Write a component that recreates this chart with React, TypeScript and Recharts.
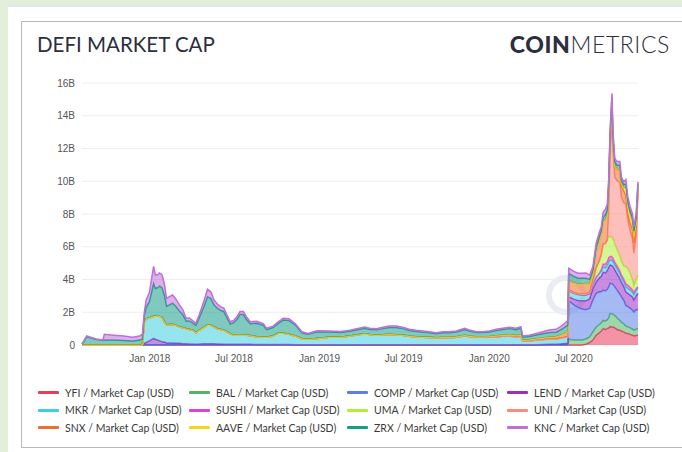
import React from 'react';
import { AreaChart, Area, XAxis, YAxis, CartesianGrid } from 'recharts';

// Observation dates (category axis of the stack)
const dates = [
  // 2017
  '2017-08-08', '2017-08-18', '2017-09-07', '2017-09-22', '2017-09-25', '2017-10-16', '2017-11-06', '2017-11-25', '2017-12-10', '2017-12-16', '2017-12-20', '2017-12-24', '2017-12-31',
  // 2018
  '2018-01-09', '2018-01-13', '2018-01-18', '2018-01-22', '2018-01-27', '2018-02-01', '2018-02-06', '2018-02-12', '2018-02-19', '2018-02-26',
  '2018-03-06', '2018-03-13', '2018-03-20', '2018-03-27', '2018-04-03', '2018-04-10', '2018-04-17', '2018-04-28', '2018-05-05', '2018-05-12',
  '2018-05-19', '2018-05-26', '2018-06-02', '2018-06-09', '2018-06-16', '2018-06-23', '2018-06-30', '2018-07-07', '2018-07-14', '2018-07-21',
  '2018-07-28', '2018-08-05', '2018-08-19', '2018-09-02', '2018-09-09', '2018-09-23', '2018-10-04', '2018-10-15', '2018-10-27', '2018-11-10',
  '2018-11-24', '2018-12-07', '2018-12-27',
  // 2019 early
  '2019-01-21', '2019-02-15', '2019-03-07', '2019-04-08', '2019-04-19',
  // 2019 May-Dec
  '2019-05-03', '2019-05-17', '2019-05-31', '2019-06-15', '2019-06-29', '2019-07-13', '2019-07-28', '2019-08-11', '2019-08-25', '2019-09-09',
  '2019-09-23', '2019-10-07', '2019-10-22', '2019-11-09', '2019-11-19', '2019-12-04', '2019-12-18',
  // 2020 H1
  '2020-01-01', '2020-01-16', '2020-01-30', '2020-02-13', '2020-02-28', '2020-03-09', '2020-03-13', '2020-03-27', '2020-04-11', '2020-04-25',
  '2020-05-09', '2020-05-24', '2020-06-07', '2020-06-18',
  // 2020 H2
  '2020-06-20', '2020-07-01', '2020-07-10', '2020-07-18', '2020-07-27', '2020-08-04', '2020-08-11', '2020-08-18', '2020-08-25', '2020-08-29',
  '2020-09-02', '2020-09-07', '2020-09-11', '2020-09-14', '2020-09-17', '2020-09-21', '2020-09-23', '2020-09-27', '2020-10-02', '2020-10-08',
  '2020-10-11', '2020-10-16', '2020-10-21', '2020-10-25', '2020-10-30', '2020-11-04', '2020-11-07', '2020-11-12', '2020-11-16',
];

// Market caps in billions USD. Each series is aligned to the END of `dates`
// (a shorter series starts later; earlier dates have no value).

// from 2020-06-20
const YFI = [0, 0, 0, 0, 0.05, 0.15, 0.3, 0.6, 0.75, 0.85, 1.0, 0.95, 1.0, 1.05, 1.12, 1.1, 1.1, 1.05, 0.95, 0.9, 0.85, 0.8, 0.72, 0.7, 0.65, 0.6, 0.55, 0.58, 0.6];
// from 2020-06-20
const BAL = [0.35, 0.3, 0.3, 0.3, 0.32, 0.35, 0.5, 0.5, 0.5, 0.5, 0.5, 0.5, 0.55, 0.6, 0.81, 0.8, 0.8, 0.75, 0.7, 0.6, 0.55, 0.5, 0.43, 0.42, 0.4, 0.38, 0.36, 0.38, 0.4];
// from 2020-06-20
const COMP = [2.35, 2.15, 2.0, 1.9, 1.78, 1.73, 1.95, 2.05, 2.0, 1.9, 1.85, 1.85, 1.85, 1.9, 1.84, 1.85, 1.8, 1.75, 1.7, 1.6, 1.55, 1.45, 1.25, 1.22, 1.2, 1.15, 1.1, 1.2, 1.14];
// from 2017-12-16
const LEND = [
  0.02, 0.1, 0.15, 0.25,
  0.4, 0.35, 0.3, 0.25, 0.2, 0.18, 0.12, 0.12, 0.12, 0.1,
  0.1, 0.08, 0.07, 0.06, 0.06, 0.05, 0.06, 0.08, 0.08, 0.08,
  0.07, 0.06, 0.06, 0.05, 0.05, 0.04, 0.04, 0.04, 0.04, 0.04,
  0.04, 0.04, 0.03, 0.03, 0.03, 0.03, 0.03, 0.03, 0.03, 0.02,
  0.02, 0.02, 0.02,
  0.02, 0.02, 0.02, 0.02, 0.02,
  0.02, 0.02, 0.02, 0.02, 0.02, 0.02, 0.02, 0.02, 0.02, 0.02, 0.02, 0.02, 0.02, 0.02, 0.02, 0.02, 0.02,
  0.02, 0.02, 0.02, 0.02, 0.02, 0.02, 0.01, 0.01, 0.02, 0.03, 0.04, 0.05, 0.08, 0.1,
  0.25, 0.35, 0.42, 0.5, 0.55, 0.6, 0.7, 0.7, 0.85, 0.95, 1.1, 1.1, 1.15, 1.2, 1.12, 1.1, 1.1, 1.05, 1.0, 0.95, 0.9, 0.85, 0.83, 0.82, 0.8, 0.8, 0.75, 0.85, 1.02,
];
// from 2017-12-20
const MKR = [
  1.3, 1.45, 1.4,
  1.35, 1.4, 1.5, 1.5, 1.5, 1.24, 1.1, 1.13, 1.13, 1.1,
  1.0, 0.97, 0.93, 0.89, 0.84, 0.7, 0.84, 1.02, 1.14, 1.12,
  1.03, 0.94, 0.89, 0.85, 0.75, 0.64, 0.57, 0.57, 0.58, 0.56,
  0.56, 0.54, 0.47, 0.45, 0.45, 0.52, 0.69, 0.69, 0.62, 0.53,
  0.36, 0.33, 0.38,
  0.45, 0.45, 0.53, 0.66, 0.62,
  0.58, 0.6, 0.62, 0.59, 0.57, 0.52, 0.47, 0.45, 0.44, 0.42, 0.43, 0.43, 0.46, 0.55, 0.5, 0.45, 0.45,
  0.46, 0.49, 0.52, 0.53, 0.49, 0.52, 0.24, 0.25, 0.28, 0.3, 0.32, 0.32, 0.37, 0.4,
  0.38, 0.36, 0.36, 0.36, 0.35, 0.31, 0.3, 0.3, 0.3, 0.3, 0.3, 0.3, 0.3, 0.3, 0.3, 0.3, 0.3, 0.28, 0.28, 0.28, 0.27, 0.27, 0.3, 0.3, 0.3, 0.3, 0.3, 0.32, 0.3,
];
// from 2020-08-29
const SUSHI = [0.1, 0.2, 0.25, 0.25, 0.3, 0.21, 0.25, 0.2, 0.2, 0.2, 0.2, 0.18, 0.18, 0.2, 0.2, 0.18, 0.15, 0.14, 0.12, 0.1];
// from 2020-06-20
const UMA = [0.05, 0.05, 0.06, 0.07, 0.1, 0.1, 0.15, 0.55, 0.75, 0.9, 1.2, 1.25, 1.3, 1.3, 1.2, 1.2, 1.2, 1.1, 1.0, 0.9, 0.85, 0.8, 1.05, 1.02, 0.85, 0.6, 0.4, 0.55, 0.71];
// from 2020-09-14
const UNI = [1.5, 5.0, 7.5, 5.4, 4.05, 4.2, 4.5, 3.9, 3.85, 3.8, 2.95, 2.6, 2.5, 2.0, 2.6, 4.99];
// from 2019-05-31
const SNX = [
  0.01, 0.01, 0.01, 0.01, 0.01, 0.01, 0.01, 0.01, 0.02, 0.02, 0.02, 0.03, 0.03, 0.03, 0.03,
  0.04, 0.05, 0.06, 0.07, 0.07, 0.08, 0.05, 0.06, 0.08, 0.09, 0.11, 0.13, 0.2, 0.3,
  0.55, 0.58, 0.58, 0.6, 0.6, 0.5, 0.45, 1.0, 1.25, 1.25, 1.4, 1.45, 1.5, 1.4, 0.9, 0.7, 0.7, 0.7, 0.7, 0.75, 0.75, 0.75, 0.55, 0.41, 0.5, 0.6, 0.65, 0.6, 0.25,
];
// from 2020-10-02
const AAVE = [0.03, 0.1, 0.1, 0.15, 0.45, 0.5, 0.45, 0.45, 0.45, 0.3, 0.2];
// full range
const ZRX = [
  0.05, 0.5, 0.35, 0.28, 0.3, 0.3, 0.28, 0.25, 0.3, 0.35, 0.4, 0.7, 1.0,
  2.0, 1.7, 1.7, 1.85, 1.8, 1.65, 1.15, 1.2, 1.3, 1.15,
  0.96, 0.8, 0.47, 0.52, 0.45, 0.45, 0.75, 1.3, 1.73, 1.65,
  1.35, 1.25, 1.17, 1.15, 0.85, 0.6, 0.75, 0.95, 1.25, 1.27,
  0.96, 0.72, 0.83, 0.72, 0.46, 0.52, 0.6, 0.8, 0.85, 0.67,
  0.37, 0.31, 0.41,
  0.32, 0.3, 0.29, 0.34, 0.31,
  0.33, 0.38, 0.42, 0.45, 0.4, 0.34, 0.33, 0.31, 0.28, 0.24, 0.28, 0.28, 0.3, 0.35, 0.31, 0.26, 0.26,
  0.28, 0.33, 0.35, 0.38, 0.36, 0.42, 0.19, 0.2, 0.23, 0.27, 0.3, 0.28, 0.35, 0.42,
  0.45, 0.4, 0.36, 0.35, 0.33, 0.28, 0.22, 0.3, 0.28, 0.25, 0.25, 0.3, 0.35, 0.3, 0.33, 0.3, 0.25, 0.25, 0.22, 0.2, 0.2, 0.2, 0.25, 0.25, 0.25, 0.25, 0.27, 0.25, 0.13,
];
// full range
const KNC = [
  0, 0.05, 0.02, 0.02, 0.35, 0.3, 0.27, 0.22, 0.25, 0.3, 0.2, 0.45, 0.55,
  1.05, 0.82, 0.8, 0.8, 0.8, 0.7, 0.48, 0.5, 0.5, 0.45,
  0.38, 0.29, 0.16, 0.18, 0.14, 0.12, 0.18, 0.35, 0.45, 0.4,
  0.3, 0.25, 0.22, 0.2, 0.18, 0.14, 0.14, 0.15, 0.17, 0.17,
  0.15, 0.12, 0.12, 0.1, 0.08, 0.08, 0.1, 0.11, 0.1, 0.08,
  0.06, 0.05, 0.06,
  0.06, 0.05, 0.06, 0.08, 0.07,
  0.07, 0.08, 0.09, 0.09, 0.08, 0.07, 0.07, 0.07, 0.06, 0.06, 0.06, 0.06, 0.06, 0.07, 0.06, 0.05, 0.05,
  0.06, 0.07, 0.07, 0.08, 0.08, 0.08, 0.06, 0.08, 0.1, 0.12, 0.15, 0.18, 0.22, 0.28,
  0.3, 0.31, 0.3, 0.3, 0.32, 0.25, 0.23, 0.2, 0.22, 0.2, 0.3, 0.35, 0.35, 0.3, 0.3, 0.27, 0.25, 0.22, 0.22, 0.22, 0.18, 0.17, 0.27, 0.27, 0.27, 0.26, 0.26, 0.25, 0.13,
];

const yTicks = [0, 2, 4, 6, 8, 10, 12, 14, 16];
const xTickDates = ['2018-01-01', '2018-07-01', '2019-01-01', '2019-07-01', '2020-01-01', '2020-07-01'];
const monthNames = ['Jan', 'Feb', 'Mar', 'Apr', 'May', 'Jun', 'Jul', 'Aug', 'Sep', 'Oct', 'Nov', 'Dec'];

const series = [
  { key: 'YFI', color: '#ec3a5c', values: YFI },
  { key: 'BAL', color: '#52b46a', values: BAL },
  { key: 'COMP', color: '#5b7fe8', values: COMP },
  { key: 'LEND', color: '#9a2fc6', values: LEND },
  { key: 'MKR', color: '#3ccfe0', values: MKR },
  { key: 'SUSHI', color: '#e63ee0', values: SUSHI },
  { key: 'UMA', color: '#b5ec3a', values: UMA },
  { key: 'UNI', color: '#fb8a80', values: UNI },
  { key: 'SNX', color: '#f26b2f', values: SNX },
  { key: 'AAVE', color: '#f8d41c', values: AAVE },
  { key: 'ZRX', color: '#179c8a', values: ZRX },
  { key: 'KNC', color: '#c06fd8', values: KNC },
];

const toTs = (d: string) => Date.parse(d + 'T00:00:00Z');
const n = dates.length;
const data = dates.map((d, i) => {
  const row: Record<string, number> = { t: toTs(d) };
  for (const s of series) {
    const off = n - s.values.length;
    row[s.key] = i >= off ? s.values[i - off] : 0;
  }
  return row;
});
const xTicks = xTickDates.map(toTs);
const fmtX = (v: number) => {
  const d = new Date(v);
  return monthNames[d.getUTCMonth()] + ' ' + d.getUTCFullYear();
};
const fmtY = (v: number) => (v === 0 ? '0' : v + 'B');

const legendCols = [38, 189, 347, 507];
const legendRows = [392.5, 410, 427.5];

const axisFont = { fontSize: 10, fill: '#555', fontFamily: '"Liberation Sans", Arial, sans-serif' };

export default function App() {
  return (
    <div style={{ position: 'absolute', left: 0, top: 0, width: 682, height: 452, background: '#e3efda', overflow: 'hidden' }}>
      <div style={{ position: 'absolute', left: 8, top: 5, width: 680, height: 452, background: '#fff', borderTop: '2px solid #e2e5f0' }} />
      <div style={{ position: 'absolute', left: 21, top: 21, width: 700, height: 425, border: '1.5px solid #b9b9b9', background: '#fff' }} />
      <div style={{ position: 'absolute', left: 37, top: 34, fontFamily: 'Lato, "Open Sans", sans-serif', fontSize: 20.5, lineHeight: 1, color: '#2c2f3d', whiteSpace: 'nowrap' }}>
        DEFI MARKET CAP
      </div>
      <div style={{ position: 'absolute', right: 12, top: 33, fontFamily: 'Lato, "Open Sans", sans-serif', fontSize: 23, lineHeight: 1, color: '#2c2f3d', whiteSpace: 'nowrap', letterSpacing: 0.6 }}>
        <span style={{ fontWeight: 900 }}>COIN</span>
        <span style={{ fontWeight: 300 }}>METRICS</span>
      </div>
      <svg style={{ position: 'absolute', left: 0, top: 0 }} width={682} height={452}>
        <circle cx={566} cy={295} r={17} fill="none" stroke="#e9ecf3" strokeWidth={6} />
      </svg>
      <div style={{ position: 'absolute', left: 0, top: 0 }}>
        <AreaChart width={682} height={370} data={data} margin={{ top: 83, right: 44, bottom: 5, left: 0 }}>
          <CartesianGrid vertical={false} stroke="#eeeeee" />
          <XAxis
            dataKey="t"
            type="number"
            domain={['dataMin', 'dataMax']}
            ticks={xTicks}
            tickFormatter={fmtX}
            interval={0}
            axisLine={false}
            tickLine={false}
            tickSize={8}
            tickMargin={2}
            height={20}
            tick={axisFont}
          />
          <YAxis
            type="number"
            domain={[0, 16]}
            ticks={yTicks}
            tickFormatter={fmtY}
            axisLine={false}
            tickLine={false}
            tickSize={5}
            tickMargin={2}
            width={82}
            tick={axisFont}
          />
          {series.map((s) => (
            <Area
              key={s.key}
              type="linear"
              dataKey={s.key}
              stackId="1"
              stroke={s.color}
              strokeWidth={1.5}
              fill={s.color}
              fillOpacity={0.55}
              dot={false}
              activeDot={false}
              isAnimationActive={false}
            />
          ))}
        </AreaChart>
      </div>
      {series.map((s, i) => {
        const col = i % 4;
        const row = Math.floor(i / 4);
        const x = legendCols[col];
        const y = legendRows[row];
        return (
          <div key={s.key} style={{ position: 'absolute', left: x, top: y - 8, height: 16, display: 'flex', alignItems: 'center', whiteSpace: 'nowrap' }}>
            <span style={{ display: 'inline-block', width: 21, height: 3, background: s.color, borderRadius: 1, marginRight: 6 }} />
            <span style={{ fontFamily: 'Lato, "Open Sans", sans-serif', fontSize: 10.5, color: '#3a3a3a' }}>{s.key} / Market Cap (USD)</span>
          </div>
        );
      })}
    </div>
  );
}
